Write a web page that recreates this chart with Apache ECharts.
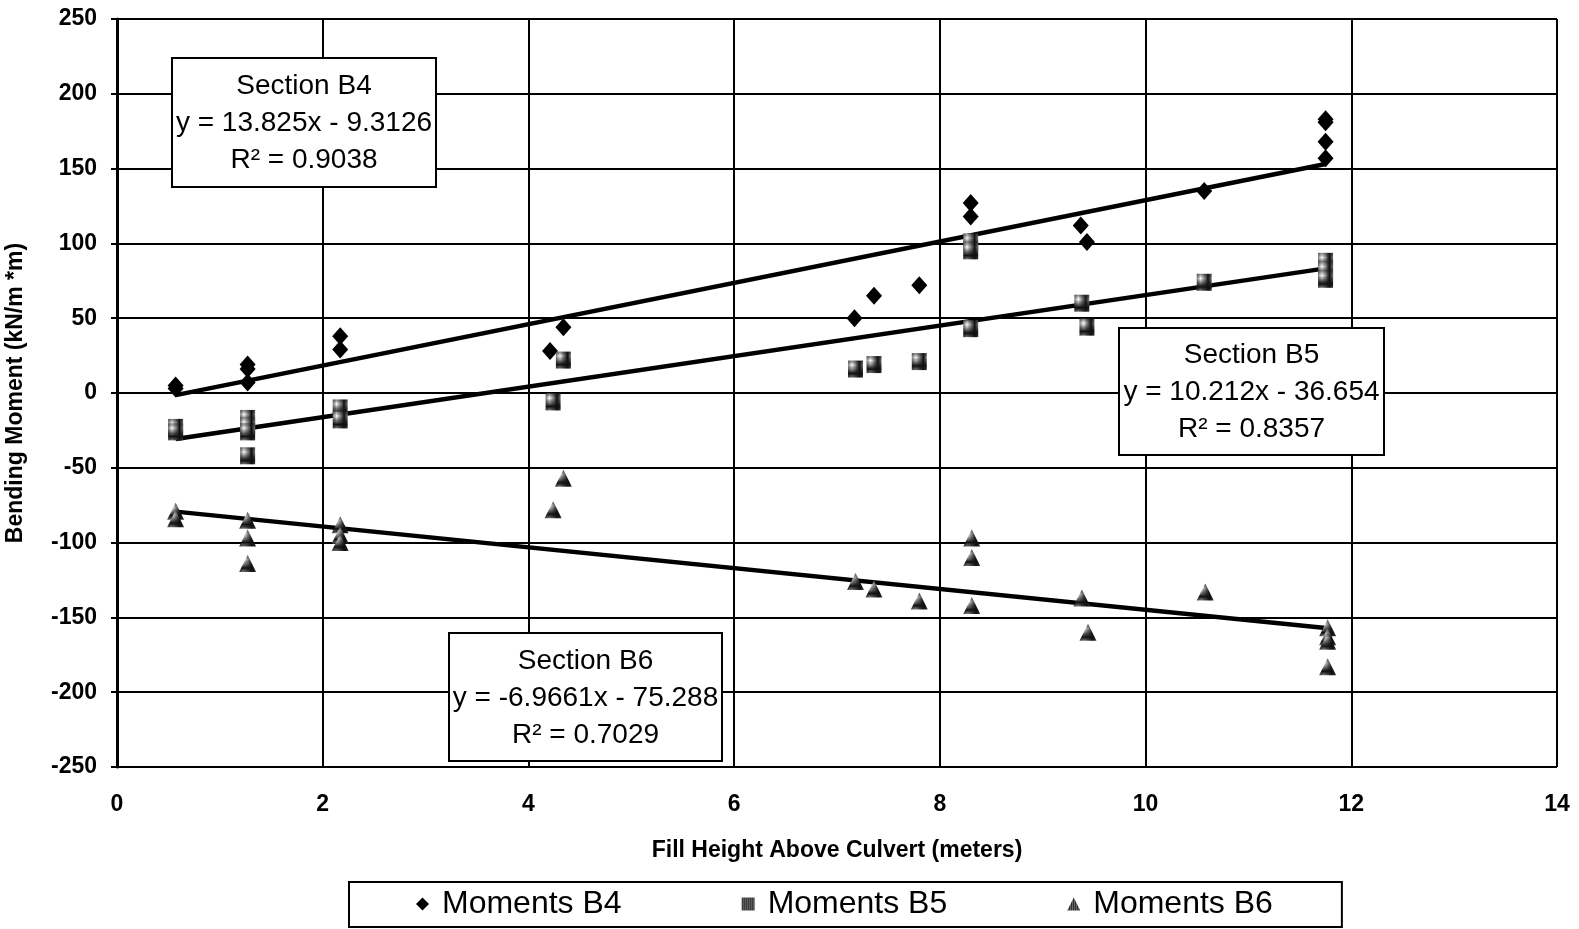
<!DOCTYPE html>
<html>
<head>
<meta charset="utf-8">
<script src="https://cdn.jsdelivr.net/npm/echarts@6/dist/echarts.min.js"></script>
<style>
  html, body { margin: 0; padding: 0; background: #fff; }
  #chart { width: 1579px; height: 929px; }
</style>
</head>
<body>
<div id="chart"></div>
<script>
// 读图得到的数据点 [填土高度(m), 弯矩]
const momentsB4 = [
  [0.57, 5], [0.57, 3], [1.27, 19], [1.27, 16], [1.27, 7], [2.17, 38], [2.17, 29],
  [4.21, 28], [4.34, 44], [7.17, 50], [7.36, 65], [7.80, 72], [8.30, 127], [8.30, 118],
  [9.37, 112], [9.43, 101], [10.57, 135], [11.75, 183], [11.75, 181], [11.75, 168], [11.75, 157]
];
const momentsB5 = [
  [0.57, -23], [0.57, -26], [1.27, -17], [1.27, -22], [1.27, -26], [1.27, -42],
  [2.17, -10], [2.17, -18], [4.24, -6], [4.34, 22], [7.18, 16], [7.36, 19], [7.80, 21],
  [8.30, 101], [8.30, 95], [8.30, 43], [9.38, 60], [9.43, 44], [10.57, 74],
  [11.75, 88], [11.75, 82], [11.75, 76]
];
const momentsB6 = [
  [0.57, -79], [0.57, -84], [1.27, -85], [1.27, -97], [1.27, -114], [2.17, -88],
  [2.17, -95], [2.17, -100], [4.24, -78], [4.34, -57], [7.18, -126], [7.36, -131],
  [7.80, -139], [8.31, -97], [8.31, -110], [8.31, -142], [9.38, -137], [9.44, -160],
  [10.58, -133], [11.77, -157], [11.77, -163], [11.77, -166], [11.77, -183]
];
// 趋势线端点（图上读取）
const trendB4 = [[0.57, -1.4], [11.75, 153.1]];
const trendB5 = [[0.57, -30.8], [11.75, 83.3]];
const trendB6 = [[0.57, -79.3], [11.75, -157.1]];

const seriesNames = ["Moments B4", "Moments B5", "Moments B6"];
const boxTexts = [
  ["Section B4", "y = 13.825x - 9.3126", "R² = 0.9038"],
  ["Section B5", "y = 10.212x - 36.654", "R² = 0.8357"],
  ["Section B6", "y = -6.9661x - 75.288", "R² = 0.7029"]
];

// 网点填充
function dotPattern() {
  const c = document.createElement("canvas");
  c.width = 4; c.height = 4;
  const ctx = c.getContext("2d");
  ctx.fillStyle = "#111";
  ctx.fillRect(0, 0, 4, 4);
  ctx.fillStyle = "#fff";
  ctx.fillRect(1, 1, 1, 1);
  ctx.fillRect(3, 3, 1, 1);
  ctx.fillRect(1, 3, 1, 1);
  ctx.fillRect(3, 1, 1, 1);
  return { image: c, repeat: "repeat" };
}
const pat = dotPattern();

function textBox(x, y, w, h, lines) {
  return {
    type: "group",
    left: x, top: y, z: 100,
    children: [
      { type: "rect", z: 100, shape: { x: 0, y: 0, width: w, height: h },
        style: { fill: "#fff", stroke: "#000", lineWidth: 2 } },
      { type: "text", z: 101, x: w / 2, y: h / 2 + 1,
        style: { text: lines.join("\n"), fontSize: 28, lineHeight: 37,
          fontFamily: "Liberation Sans", fill: "#000", align: "center",
          verticalAlign: "middle" } }
    ]
  };
}

const chart = echarts.init(document.getElementById("chart"));
const trendStyle = { type: "line", symbol: "none", silent: true,
  lineStyle: { color: "#000", width: 4.5 }, z: 3 };
const boldText = { fontSize: 23, fontWeight: "bold", color: "#000" };

chart.setOption({
  animation: false,
  textStyle: { fontFamily: "Liberation Sans", color: "#000" },
  grid: { left: 117, right: 22, top: 19, height: 748, containLabel: false, outerBoundsMode: "none" },
  xAxis: {
    type: "value", min: 0, max: 14, interval: 2,
    name: "Fill Height Above Culvert (meters)",
    nameLocation: "middle", nameGap: 72,
    nameTextStyle: boldText,
    axisLine: { lineStyle: { color: "#000", width: 2 } },
    axisTick: { show: false },
    axisLabel: Object.assign({ margin: 26 }, boldText),
    splitLine: { lineStyle: { color: "#000", width: 2 } }
  },
  yAxis: {
    type: "value", min: -250, max: 250, interval: 50,
    name: "Bending Moment (kN/m *m)",
    nameLocation: "middle", nameGap: 90,
    nameTextStyle: boldText,
    axisLine: { show: true, lineStyle: { color: "#000", width: 3 } },
    axisTick: { show: true, length: 6, lineStyle: { color: "#000", width: 2 } },
    axisLabel: Object.assign({ margin: 20 }, boldText),
    splitLine: { lineStyle: { color: "#000", width: 2 } }
  },
  legend: {
    data: seriesNames,
    left: 349, top: 882,
    padding: [6, 69, 7, 67],
    itemGap: 120,
    itemWidth: 13, itemHeight: 13,
    borderColor: "#000", borderWidth: 2,
    textStyle: { fontSize: 32, color: "#000", fontFamily: "Liberation Sans",
      padding: [0, 0, 0, 8] }
  },
  graphic: [
    textBox(171, 57, 264, 129, boxTexts[0]),
    textBox(1118, 327, 265, 127, boxTexts[1]),
    textBox(448, 632, 273, 128, boxTexts[2])
  ],
  series: [
    Object.assign({ name: "trendB4", data: trendB4 }, trendStyle),
    Object.assign({ name: "trendB5", data: trendB5 }, trendStyle),
    Object.assign({ name: "trendB6", data: trendB6 }, trendStyle),
    { name: seriesNames[0], type: "scatter", data: momentsB4, symbol: "diamond",
      symbolSize: [16, 18], itemStyle: { color: "#000", opacity: 1 }, z: 4 },
    { name: seriesNames[1], type: "scatter", data: momentsB5, symbol: "rect",
      symbolSize: [15, 17], itemStyle: { color: pat, opacity: 1 }, z: 4 },
    { name: seriesNames[2], type: "scatter", data: momentsB6, symbol: "triangle",
      symbolSize: 17, itemStyle: { color: pat, opacity: 1 }, z: 4 }
  ]
});
</script>
</body>
</html>
